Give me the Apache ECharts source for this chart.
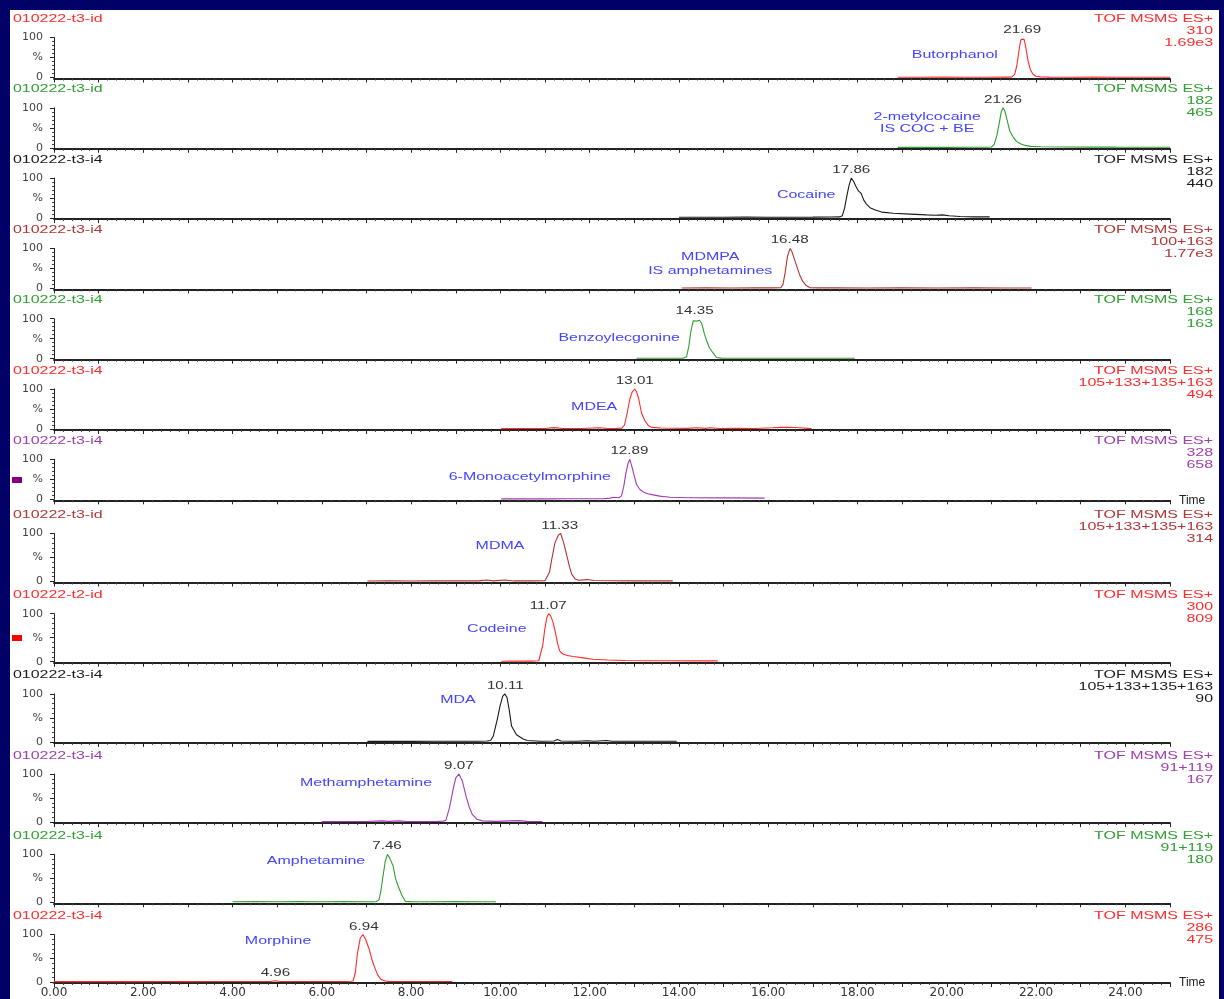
<!DOCTYPE html>
<html><head><meta charset="utf-8">
<script src="https://cdn.jsdelivr.net/npm/echarts@6/dist/echarts.min.js"></script>
<style>
html,body{margin:0;padding:0;background:#000066;width:1224px;height:999px;overflow:hidden;}
#bg{position:absolute;left:10px;top:10px;width:1209px;height:989px;background:#ffffff;}
#c{position:absolute;left:0;top:0;width:1224px;height:999px;}
</style>
</head><body><div id="bg"></div><div id="c"></div>
<script>
// ---------- DATA ----------
const xTickLabels = ['0.00','2.00','4.00','6.00','8.00','10.00','12.00','14.00','16.00','18.00','20.00','22.00','24.00'];
const yTickLabels = ['0','%','100'];
const runIds = ['010222-t3-id','010222-t3-id','010222-t3-i4','010222-t3-i4','010222-t3-i4','010222-t3-i4','010222-t3-i4','010222-t3-id','010222-t2-id','010222-t3-i4','010222-t3-i4','010222-t3-i4','010222-t3-i4'];
const scanMode = 'TOF MSMS ES+';
const massLabels = ['310','182','182','100+163','168','105+133+135+163','328','105+133+135+163','300','105+133+135+163','91+119','91+119','286'];
const intensityLabels = ['1.69e3','465','440','1.77e3','163','494','658','314','809','90','167','180','475'];
const compoundNames = ['Butorphanol','2-metylcocaine\nIS COC + BE','Cocaine','MDMPA\nIS amphetamines','Benzoylecgonine','MDEA','6-Monoacetylmorphine','MDMA','Codeine','MDA','Methamphetamine','Amphetamine','Morphine'];
const peakTimes = [21.69,21.26,17.86,16.48,14.35,13.01,12.89,11.33,11.07,10.11,9.07,7.46,6.94];
const minorPeakTimes = [null,null,null,null,null,null,null,null,null,null,null,null,4.96];

const butorphanol = [[18.9,0.8],[19.4,0.6],[19.9,0.9],[20.4,0.7],[20.9,0.8],[21.3,0.9],[21.45,1],[21.52,8],[21.57,30],[21.62,70],[21.66,95],[21.69,100],[21.73,96],[21.77,75],[21.82,42],[21.87,20],[21.93,8],[22.0,3],[22.1,1.5],[22.3,1],[22.8,0.8],[23.3,0.9],[23.8,0.7],[24.3,0.8],[25.0,0.8]];
const metylcocaine = [[18.9,1],[19.5,1.2],[20.0,1],[20.5,1.2],[20.9,1.3],[21.0,2],[21.06,8],[21.12,30],[21.18,65],[21.22,90],[21.26,100],[21.3,92],[21.35,70],[21.41,42],[21.48,28],[21.56,16],[21.65,10],[21.75,6],[21.88,3.5],[22.1,2.5],[22.6,2],[23.2,1.8],[23.8,1.6],[24.4,1.5],[25.0,1.5]];
const cocaine = [[14.0,2],[14.5,2.3],[15.0,2],[15.5,2.4],[16.0,2.1],[16.5,2.3],[17.0,2.4],[17.4,2.6],[17.6,3],[17.66,6],[17.71,25],[17.76,55],[17.81,82],[17.86,100],[17.91,92],[17.96,80],[18.02,68],[18.08,62],[18.14,45],[18.2,35],[18.28,26],[18.4,20],[18.54,15],[18.8,12],[19.18,10],[19.55,8],[19.75,7],[19.9,8],[20.05,6],[20.3,4],[20.6,3],[20.96,3]];
const mdmpa = [[14.06,1],[14.6,1.2],[15.2,1],[15.7,1.2],[16.1,1.3],[16.28,1.5],[16.33,10],[16.38,40],[16.43,80],[16.49,100],[16.53,92],[16.58,75],[16.64,55],[16.7,35],[16.77,18],[16.85,7],[16.93,2],[17.1,1.3],[17.5,1.2],[18.2,1.1],[19.0,1.3],[19.8,1],[20.6,1.2],[21.3,1.1],[21.9,1]];
const benzoylecgonine = [[13.05,1],[13.4,1.2],[13.7,1],[13.95,1.3],[14.1,1.5],[14.17,5],[14.22,30],[14.27,70],[14.32,95],[14.36,100],[14.41,94],[14.46,96],[14.51,88],[14.57,62],[14.62,45],[14.68,28],[14.76,15],[14.84,3],[14.95,1.5],[15.5,1.2],[16.0,1.3],[16.5,1.1],[17.0,1.2],[17.5,1.2],[17.94,1.2]];
const mdea = [[10.02,1],[10.5,1.2],[11.0,1.3],[11.2,3.5],[11.4,1.2],[11.8,1.3],[12.22,3],[12.4,1.2],[12.6,1.5],[12.72,2],[12.78,10],[12.84,40],[12.9,75],[12.95,92],[13.01,100],[13.05,93],[13.1,75],[13.16,40],[13.24,20],[13.32,8],[13.4,4],[13.6,2.5],[13.9,2],[14.2,1.5],[14.4,3],[14.6,1.5],[14.69,3],[14.9,1.2],[15.3,1.5],[15.7,1.3],[16.1,3],[16.3,4],[16.5,4.5],[16.7,3],[16.97,1]];
const monoacetylmorphine = [[10.02,1],[10.5,1.2],[11.0,1],[11.5,1.2],[12.0,1.3],[12.3,1.5],[12.45,3],[12.55,5],[12.65,4],[12.71,8],[12.76,30],[12.81,65],[12.86,90],[12.9,100],[12.95,80],[13.0,58],[13.05,37],[13.12,25],[13.2,18],[13.3,14],[13.42,11],[13.57,8],[13.8,5],[14.2,4],[15.0,3.5],[15.92,3]];
const mdma = [[7.02,1],[7.5,1.2],[8.0,1],[8.5,1.3],[9.0,1.2],[9.5,1.3],[9.69,3],[9.85,1.3],[10.1,3],[10.3,1.2],[10.7,1.4],[11.0,1.5],[11.04,3],[11.1,20],[11.15,46],[11.22,80],[11.3,97],[11.35,100],[11.42,80],[11.49,53],[11.55,30],[11.6,15],[11.68,5],[11.75,2.5],[11.95,4],[12.1,2],[12.5,1.5],[13.0,1.4],[13.5,1.2],[13.86,1.2]];
const codeine = [[10.02,1],[10.4,1.2],[10.7,1.3],[10.86,2],[10.9,6],[10.95,35],[10.99,65],[11.04,92],[11.08,100],[11.13,95],[11.18,82],[11.23,62],[11.28,38],[11.33,22],[11.4,16],[11.5,13],[11.63,11],[11.85,8],[12.07,5],[12.4,3.5],[12.8,2.5],[13.3,2],[13.8,2],[14.3,1.8],[14.87,1.8]];
const mda = [[7.02,1],[7.5,1.2],[8.0,1.1],[8.5,1.3],[9.0,1.2],[9.5,1.4],[9.7,2],[9.78,3],[9.84,12],[9.93,47],[9.99,74],[10.05,95],[10.1,100],[10.15,92],[10.2,65],[10.25,33],[10.36,15],[10.51,6],[10.6,3],[10.9,1.5],[11.2,2],[11.28,5],[11.36,2],[11.7,1.5],[11.95,2.5],[12.1,1.5],[12.38,3],[12.5,1.5],[13.0,1.3],[13.5,1.2],[13.95,1.2]];
const methamphetamine = [[6.0,1],[6.5,1.2],[7.0,1.1],[7.35,2.5],[7.5,1.5],[7.73,2.5],[7.9,1.3],[8.3,1.4],[8.6,1.5],[8.72,2],[8.78,4],[8.86,30],[8.94,68],[9.0,92],[9.07,100],[9.15,85],[9.23,54],[9.3,32],[9.37,16],[9.47,6],[9.6,2.5],[9.9,1.5],[10.2,2.5],[10.43,3],[10.6,1.5],[10.94,1.3]];
const amphetamine = [[4.0,1],[4.5,1.5],[5.0,1.2],[5.5,1.4],[6.0,1.2],[6.5,1.5],[7.0,1.3],[7.22,1.5],[7.28,5],[7.32,22],[7.36,48],[7.42,85],[7.47,100],[7.53,90],[7.6,75],[7.65,50],[7.7,36],[7.74,33],[7.8,13],[7.87,2],[8.0,1.5],[8.5,1.3],[9.0,1.4],[9.5,1.2],[9.9,1.2]];
const morphine = [[0,0.8],[0.5,0.9],[1.0,0.8],[1.5,0.9],[2.0,0.8],[2.5,0.9],[3.0,0.8],[3.5,1],[4.0,0.9],[4.5,1],[4.85,1.2],[4.96,2.5],[5.07,1.2],[5.5,1],[6.0,1.1],[6.5,1.2],[6.65,1.5],[6.7,2],[6.75,20],[6.8,62],[6.86,92],[6.92,100],[6.98,90],[7.06,69],[7.12,48],[7.17,34],[7.25,15],[7.32,6],[7.42,2],[7.5,1.3],[8.0,1.2],[8.5,1],[8.92,1]];

const traces = [butorphanol, metylcocaine, cocaine, mdmpa, benzoylecgonine, mdea, monoacetylmorphine, mdma, codeine, mda, methamphetamine, amphetamine, morphine];

// ---------- LAYOUT / STYLE ----------
const layout = {
  left: 54, width: 1116,
  colors: ['#ff2b2b','#2f9f2f','#1a1a1a','#b03535','#2f9f2f','#ff2b2b','#a03cb0','#b03535','#ff2b2b','#1a1a1a','#a03cb0','#2f9f2f','#ff2b2b'],
  namePos: [[20.18,57],[19.56,61],[16.85,59],[14.7,60],[12.66,53],[12.1,54],[10.66,57],[9.99,75],[9.92,69],[9.05,88],[6.99,82],[5.87,87],[5.02,87]],
  timeAxisPanels: [6,12]
};
function panelBottom(i){ return i < 7 ? 77.5 + i*70.3 : 581.5 + (i-7)*80.2; }
function panelHeight(i){ return i < 7 ? 40 : 48; }
function headerY(i){ return panelBottom(i) - (i < 7 ? 58.5 : 66.5); }

const FONT = '"Liberation Sans", Arial, sans-serif';
const chart = echarts.init(document.getElementById('c'), null, {renderer:'canvas'});

const grids = [], xAxes = [], yAxes = [], series = [];
traces.forEach((tr, i) => {
  const h = panelHeight(i), b = panelBottom(i);
  grids.push({left: layout.left, width: layout.width, top: b - h, height: h, containLabel: false});
  const last = i === traces.length - 1;
  xAxes.push({
    type:'value', gridIndex:i, min:0, max:25, interval:1, offset:1,
    name: layout.timeAxisPanels.includes(i) ? 'Time' : '',
    nameLocation:'end', nameGap:9,
    nameTextStyle:{fontSize:12, color:'#222', fontFamily:FONT, align:'left', verticalAlign:'middle'},
    axisLine:{show:true, onZero:false, lineStyle:{color:'#222', width:1.8}},
    axisTick:{show:true, length:4, lineStyle:{color:'#222', width:1}},
    minorTick:{show:true, splitNumber:5, length:2, lineStyle:{color:'#444', width:1}},
    splitLine:{show:false}, minorSplitLine:{show:false},
    axisLabel:{show:last, margin:4, fontSize:12, color:'#333', fontFamily:'"DejaVu Sans", sans-serif',
      showMaxLabel:false,
      formatter: v => (Math.round(v) % 2 === 0 && xTickLabels[Math.round(v)/2]) ? xTickLabels[Math.round(v)/2] : ''}
  });
  yAxes.push({
    type:'value', gridIndex:i, min:0, max:100, interval:50,
    axisLine:{show:true, lineStyle:{color:'#222', width:1}},
    axisTick:{show:true, length:4, lineStyle:{color:'#222'}},
    minorTick:{show:true, splitNumber:5, length:2, lineStyle:{color:'#444'}},
    splitLine:{show:false},
    axisLabel:{margin:11, fontSize:11, color:'#444', fontFamily:'"DejaVu Sans", sans-serif',
      formatter: v => yTickLabels[Math.round(v/50)] || ''}
  });
  series.push({
    type:'line', xAxisIndex:i, yAxisIndex:i, data: tr, showSymbol:false, symbol:'none',
    lineStyle:{color: layout.colors[i], width:1.1}, silent:true, animation:false, clip:false, z:5
  });
});

chart.setOption({
  backgroundColor:'transparent', animation:false,
  grid: grids, xAxis: xAxes, yAxis: yAxes, series: series
});

// ---------- TEXT ANNOTATIONS ----------
const SX = 1.45;
function txt(x, y, text, color, align, opts){
  opts = opts || {};
  return {type:'text', x:x, y:y, scaleX: opts.sx || SX, scaleY:1, originX:0, originY:0, silent:true, z:10,
    style:{text:text, fill:color, fontSize: opts.size || 11, fontFamily:FONT,
      textAlign:align, align:align, textVerticalAlign:'middle', verticalAlign:'middle',
      lineHeight: opts.lh || 12}};
}
const g = [];
traces.forEach((tr, i) => {
  const hy = headerY(i), col = layout.colors[i];
  g.push(txt(13, hy, runIds[i], col, 'left'));
  g.push(txt(1213, hy, scanMode, col, 'right'));
  g.push(txt(1213, hy + 12, massLabels[i], col, 'right'));
  g.push(txt(1213, hy + 24, intensityLabels[i], col, 'right'));
  const pk = chart.convertToPixel({xAxisIndex:i, yAxisIndex:i}, [peakTimes[i], 100]);
  g.push(txt(pk[0], pk[1] - 8, peakTimes[i].toFixed(2), '#333', 'center', {sx:1.38}));
  if (minorPeakTimes[i] !== null) {
    const mp = chart.convertToPixel({xAxisIndex:i, yAxisIndex:i}, [minorPeakTimes[i], 2.5]);
    g.push(txt(mp[0], mp[1] - 8, minorPeakTimes[i].toFixed(2), '#333', 'center', {sx:1.38}));
  }
  const np = chart.convertToPixel({xAxisIndex:i, yAxisIndex:i}, layout.namePos[i]);
  g.push(txt(np[0], np[1], compoundNames[i], '#4444ff', 'center', {lh: i === 3 ? 14 : 12}));
});
g.push({type:'rect', shape:{x:12, y:477, width:10, height:6}, style:{fill:'#800080'}, silent:true});
g.push({type:'rect', shape:{x:12, y:635, width:10, height:6}, style:{fill:'#ff0000'}, silent:true});

chart.setOption({graphic: g});
</script>
</body></html>
